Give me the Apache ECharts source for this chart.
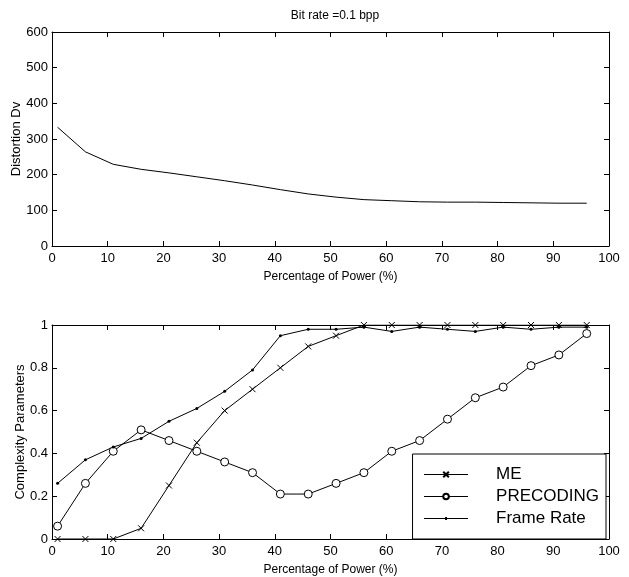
<!DOCTYPE html>
<html>
<head>
<meta charset="utf-8">
<script src="https://cdn.jsdelivr.net/npm/echarts@6/dist/echarts.min.js"></script>
<style>
html, body { margin: 0; padding: 0; background: #fff; }
#chart { width: 629px; height: 577px; }
</style>
</head>
<body>
<div id="chart"></div>
<script>
// percentage of power (x positions shared by both plots)
var power = [1, 6, 11, 16, 21, 26, 31, 36, 41, 46, 51, 56, 61, 66, 71, 76, 81, 86, 91, 96];
// top plot
var distortion = [333, 264, 229, 215, 205, 194, 183, 171, 158, 146, 137, 130, 127, 124, 123, 123, 122, 121, 120, 120];
// bottom plot
var me = [0, 0, 0, 0.05, 0.25, 0.45, 0.6, 0.7, 0.8, 0.9, 0.95, 1, 1, 1, 1, 1, 1, 1, 1, 1];
var precoding = [0.06, 0.26, 0.41, 0.51, 0.46, 0.41, 0.36, 0.31, 0.21, 0.21, 0.26, 0.31, 0.41, 0.46, 0.56, 0.66, 0.71, 0.81, 0.86, 0.96];
var frameRate = [0.26, 0.37, 0.43, 0.47, 0.55, 0.61, 0.69, 0.79, 0.95, 0.98, 0.98, 0.99, 0.97, 0.99, 0.98, 0.97, 0.99, 0.98, 0.99, 0.99];

var font = 'Liberation Sans, Arial, sans-serif';

function pairs(ys) {
    var out = [];
    for (var i = 0; i < power.length; i++) {
        out.push([power[i], ys[i]]);
    }
    return out;
}

function xAxisMain(grid) {
    return {
        gridIndex: grid, type: 'value', min: 0, max: 100, interval: 10,
        name: 'Percentage of Power (%)', nameLocation: 'middle', nameGap: 25,
        nameTextStyle: { fontFamily: font, fontSize: 12, color: '#000' },
        axisLine: { show: true, onZero: false, lineStyle: { color: '#000', width: 1 } },
        axisTick: { inside: true, length: 5, lineStyle: { color: '#000' } },
        axisLabel: { fontFamily: font, fontSize: 13, color: '#000', margin: 6, showMinLabel: true, showMaxLabel: true },
        splitLine: { show: false }
    };
}
function xAxisMirror(grid) {
    return {
        gridIndex: grid, type: 'value', position: 'top', min: 0, max: 100, interval: 10,
        axisLine: { show: true, onZero: false, lineStyle: { color: '#000', width: 1 } },
        axisTick: { inside: true, length: 5, lineStyle: { color: '#000' } },
        axisLabel: { show: false },
        splitLine: { show: false }
    };
}
function yAxisMain(grid, name, max, interval, gap) {
    return {
        gridIndex: grid, type: 'value', min: 0, max: max, interval: interval,
        name: name, nameLocation: 'middle', nameGap: gap, nameMoveOverlap: false,
        nameTextStyle: { fontFamily: font, fontSize: 13, color: '#000' },
        axisLine: { show: true, onZero: false, lineStyle: { color: '#000', width: 1 } },
        axisTick: { inside: true, length: 5, lineStyle: { color: '#000' } },
        axisLabel: { fontFamily: font, fontSize: 13, color: '#000', margin: 4, showMinLabel: true, showMaxLabel: true },
        splitLine: { show: false }
    };
}
function yAxisMirror(grid, max, interval) {
    return {
        gridIndex: grid, type: 'value', position: 'right', min: 0, max: max, interval: interval,
        axisLine: { show: true, onZero: false, lineStyle: { color: '#000', width: 1 } },
        axisTick: { inside: true, length: 5, lineStyle: { color: '#000' } },
        axisLabel: { show: false },
        splitLine: { show: false }
    };
}

var chart = echarts.init(document.getElementById('chart'), null, { renderer: 'canvas' });
chart.setOption({
    backgroundColor: '#fff',
    animation: false,
    title: {
        text: 'Bit rate =0.1 bpp',
        left: 330, top: 5, textAlign: 'center',
        textStyle: { fontFamily: font, fontSize: 12, fontWeight: 'normal', color: '#000' }
    },
    grid: [
        { left: 52, top: 32, width: 557, height: 214, outerBoundsMode: 'none', containLabel: false },
        { left: 52, top: 325, width: 557, height: 214, outerBoundsMode: 'none', containLabel: false }
    ],
    xAxis: [xAxisMain(0), xAxisMirror(0), xAxisMain(1), xAxisMirror(1)],
    yAxis: [
        yAxisMain(0, 'Distortion Dv', 600, 100, 29),
        yAxisMirror(0, 600, 100),
        yAxisMain(1, 'Complexity Parameters', 1, 0.2, 25),
        yAxisMirror(1, 1, 0.2)
    ],
    legend: {
        data: [
            { name: 'ME', lineStyle: { color: '#000', width: 1 } },
            { name: 'PRECODING', lineStyle: { color: '#000', width: 1 } },
            { name: 'Frame Rate', icon: 'path://M0,1h44v1h-44z M21,0h2v3h-2z' }
        ],
        orient: 'vertical',
        right: 23, bottom: 38,
        padding: [12, 7, 12, 11],
        itemWidth: 44, itemHeight: 7, itemGap: 5,
        backgroundColor: '#fff', borderColor: '#000', borderWidth: 1, borderRadius: 0,
        textStyle: { fontFamily: font, fontSize: 17, color: '#000', lineHeight: 17, padding: [0, 0, 0, 23] }
    },
    series: [
        {
            name: 'distortion', type: 'line', xAxisIndex: 0, yAxisIndex: 0,
            data: pairs(distortion), showSymbol: false, symbol: 'none',
            lineStyle: { color: '#000', width: 1 }
        },
        {
            name: 'ME', type: 'line', xAxisIndex: 2, yAxisIndex: 2,
            data: pairs(me),
            symbol: 'path://M0,0L10,10M0,10L10,0', symbolSize: 6,
            lineStyle: { color: '#000', width: 1 },
            itemStyle: { color: '#000', borderColor: '#000', borderWidth: 1 }
        },
        {
            name: 'PRECODING', type: 'line', xAxisIndex: 2, yAxisIndex: 2,
            data: pairs(precoding),
            symbol: 'circle', symbolSize: 8,
            lineStyle: { color: '#000', width: 1 },
            itemStyle: { color: '#fff', borderColor: '#000', borderWidth: 1 }
        },
        {
            name: 'Frame Rate', type: 'line', xAxisIndex: 2, yAxisIndex: 2,
            data: pairs(frameRate),
            symbol: 'circle', symbolSize: 3,
            lineStyle: { color: '#000', width: 1 },
            itemStyle: { color: '#000' }
        }
    ]
});
</script>
</body>
</html>
